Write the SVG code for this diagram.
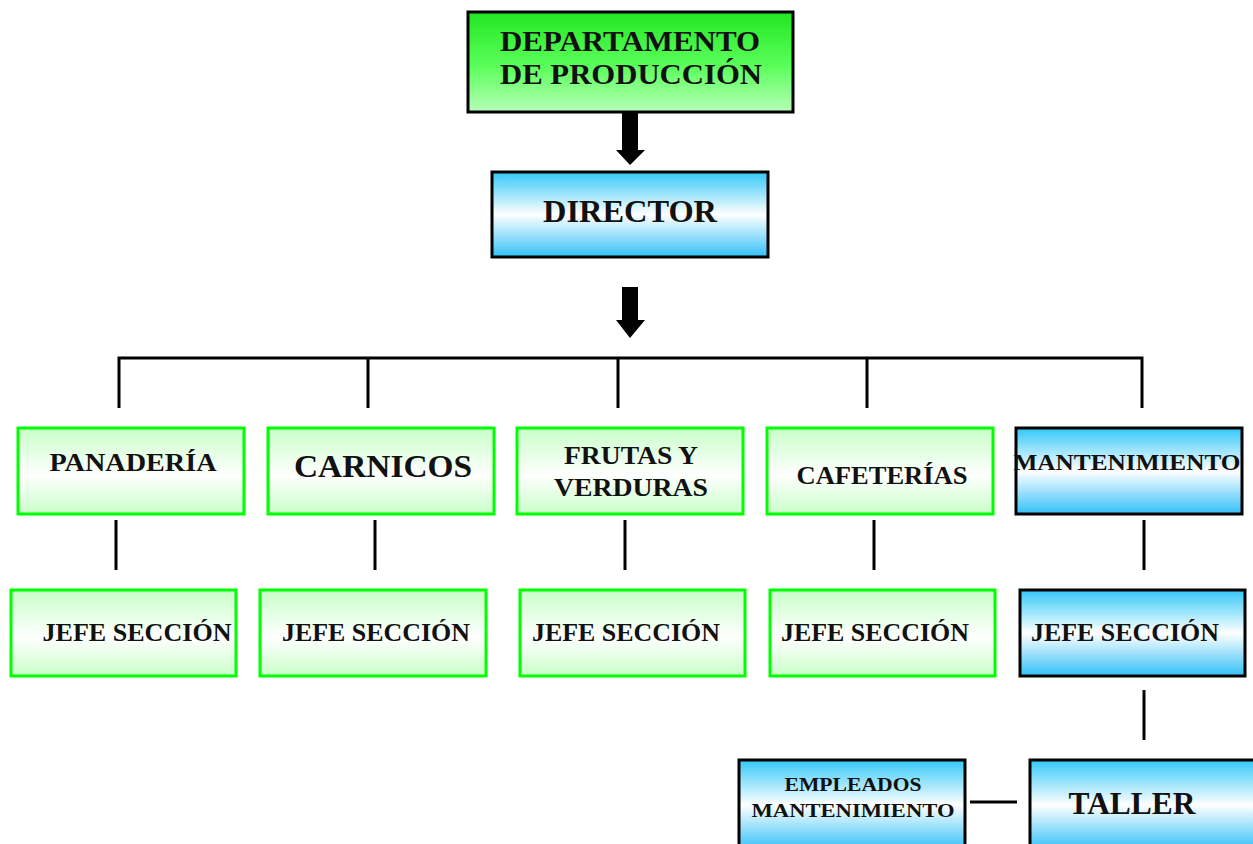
<svg xmlns="http://www.w3.org/2000/svg" width="1253" height="844" viewBox="0 0 1253 844">
  <defs>
    <linearGradient id="gTop" x1="0" y1="0" x2="0" y2="1">
      <stop offset="0" stop-color="#22e622"/>
      <stop offset="0.55" stop-color="#5cff5c"/>
      <stop offset="1" stop-color="#b8ffb8"/>
    </linearGradient>
    <linearGradient id="gGreen" x1="0" y1="0" x2="0" y2="1">
      <stop offset="0" stop-color="#c8ffc8"/>
      <stop offset="0.55" stop-color="#ffffff"/>
      <stop offset="1" stop-color="#c8ffc8"/>
    </linearGradient>
    <linearGradient id="gBlue" x1="0" y1="0" x2="0" y2="1">
      <stop offset="0" stop-color="#33c8f8"/>
      <stop offset="0.5" stop-color="#ffffff"/>
      <stop offset="1" stop-color="#33c0f8"/>
    </linearGradient>
  </defs>
  <style>
    .t { font-family: "Liberation Serif", "DejaVu Serif", serif; font-weight: bold; fill: #111; }
    .green { fill: url(#gGreen); stroke: #00ff00; stroke-width: 3; }
    .blue { fill: url(#gBlue); stroke: #000; stroke-width: 3; }
    .top { fill: url(#gTop); stroke: #000; stroke-width: 3; }
    .ln { stroke: #000; stroke-width: 3; fill: none; }
  </style>

  <!-- connectors -->
  <g id="connectors">
    <polygon points="622,113 638,113 638,150 645,150 630,165 616,150 622,150" fill="#000"/>
    <polygon points="622,287 638,287 638,320 645,320 630,338 616,320 622,320" fill="#000"/>
    <path class="ln" d="M119,408 V358 H1142 V408"/>
    <path class="ln" d="M368,358 V408 M618,358 V408 M867,358 V408"/>
    <path class="ln" d="M116,520 V570 M375,520 V570 M625,520 V570 M874,520 V570 M1144,520 V570"/>
    <path class="ln" d="M1144,690 V740"/>
    <path class="ln" d="M970,802 H1017"/>
  </g>

  <g id="departamento">
    <rect class="top" x="468" y="12" width="325" height="100"/>
    <text class="t" x="630" y="51" font-size="29" text-anchor="middle" textLength="260" lengthAdjust="spacingAndGlyphs">DEPARTAMENTO</text>
    <text class="t" x="631" y="84" font-size="29" text-anchor="middle" textLength="262" lengthAdjust="spacingAndGlyphs">DE PRODUCCIÓN</text>
  </g>

  <g id="director">
    <rect class="blue" x="492" y="172" width="276" height="85"/>
    <text class="t" x="630" y="222" font-size="32" text-anchor="middle" textLength="174" lengthAdjust="spacingAndGlyphs">DIRECTOR</text>
  </g>

  <g id="panaderia">
    <rect class="green" x="18" y="428" width="226" height="86"/>
    <text class="t" x="133" y="471" font-size="26" text-anchor="middle" textLength="167" lengthAdjust="spacingAndGlyphs">PANADERÍA</text>
  </g>
  <g id="carnicos">
    <rect class="green" x="268" y="428" width="226" height="86"/>
    <text class="t" x="383" y="477" font-size="32" text-anchor="middle" textLength="178" lengthAdjust="spacingAndGlyphs">CARNICOS</text>
  </g>
  <g id="frutas">
    <rect class="green" x="517" y="428" width="226" height="86"/>
    <text class="t" x="631" y="464" font-size="26" text-anchor="middle" textLength="134" lengthAdjust="spacingAndGlyphs">FRUTAS Y</text>
    <text class="t" x="631" y="496" font-size="26" text-anchor="middle" textLength="154" lengthAdjust="spacingAndGlyphs">VERDURAS</text>
  </g>
  <g id="cafeterias">
    <rect class="green" x="767" y="428" width="226" height="86"/>
    <text class="t" x="882" y="484" font-size="26" text-anchor="middle" textLength="171" lengthAdjust="spacingAndGlyphs">CAFETERÍAS</text>
  </g>
  <g id="mantenimiento">
    <rect class="blue" x="1016" y="428" width="226" height="86"/>
    <text class="t" x="1127" y="470" font-size="24" text-anchor="middle" textLength="227" lengthAdjust="spacingAndGlyphs">MANTENIMIENTO</text>
  </g>

  <g id="jefe1">
    <rect class="green" x="11" y="590" width="225" height="86"/>
    <text class="t" x="137" y="641" font-size="26" text-anchor="middle" textLength="189" lengthAdjust="spacingAndGlyphs">JEFE SECCIÓN</text>
  </g>
  <g id="jefe2">
    <rect class="green" x="260" y="590" width="226" height="86"/>
    <text class="t" x="376" y="641" font-size="26" text-anchor="middle" textLength="188" lengthAdjust="spacingAndGlyphs">JEFE SECCIÓN</text>
  </g>
  <g id="jefe3">
    <rect class="green" x="520" y="590" width="225" height="86"/>
    <text class="t" x="626" y="641" font-size="26" text-anchor="middle" textLength="188" lengthAdjust="spacingAndGlyphs">JEFE SECCIÓN</text>
  </g>
  <g id="jefe4">
    <rect class="green" x="770" y="590" width="225" height="86"/>
    <text class="t" x="875" y="641" font-size="26" text-anchor="middle" textLength="188" lengthAdjust="spacingAndGlyphs">JEFE SECCIÓN</text>
  </g>
  <g id="jefe5">
    <rect class="blue" x="1020" y="590" width="225" height="86"/>
    <text class="t" x="1125" y="641" font-size="26" text-anchor="middle" textLength="188" lengthAdjust="spacingAndGlyphs">JEFE SECCIÓN</text>
  </g>

  <g id="empleados">
    <rect class="blue" x="739" y="760" width="226" height="90"/>
    <text class="t" x="853" y="791" font-size="19" text-anchor="middle" textLength="137" lengthAdjust="spacingAndGlyphs">EMPLEADOS</text>
    <text class="t" x="853" y="817" font-size="19" text-anchor="middle" textLength="203" lengthAdjust="spacingAndGlyphs">MANTENIMIENTO</text>
  </g>
  <g id="taller">
    <rect class="blue" x="1030" y="760" width="230" height="90"/>
    <text class="t" x="1132" y="814" font-size="32" text-anchor="middle" textLength="127" lengthAdjust="spacingAndGlyphs">TALLER</text>
  </g>
</svg>
